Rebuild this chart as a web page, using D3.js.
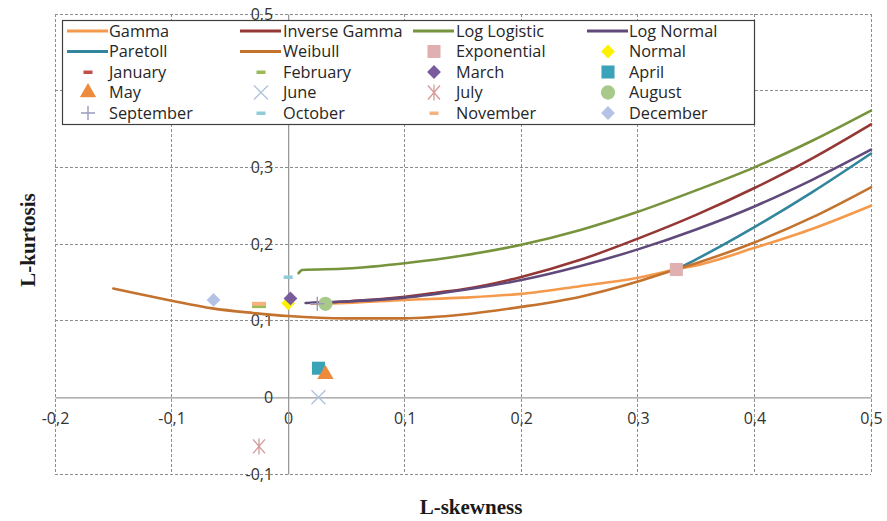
<!DOCTYPE html>
<html><head><meta charset="utf-8">
<script src="https://cdn.jsdelivr.net/npm/d3@7"></script>
<style>
body{margin:0;background:#fff;}
svg{display:block;}
</style></head>
<body>
<svg id="chart" width="887" height="521"></svg>
<script>
// ---------- DATA ----------
const xTicks = [-0.2,-0.1,0,0.1,0.2,0.3,0.4,0.5];
const yTicks = [-0.1,0,0.1,0.2,0.3,0.4,0.5];
const yLabelTicks = [-0.1,0,0.1,0.2,0.3,0.5];

const curveNames = ["Gamma","Inverse Gamma","Log Logistic","Log Normal","Paretoll","Weibull"];
const curveColors = ["#F59A4C","#953735","#77933C","#604A7B","#31859C","#C4732F"];
const gammaPts = [[0.02,0.122],[0.05,0.123],[0.1,0.127],[0.15,0.130],[0.2,0.135],[0.25,0.145],[0.3,0.156],[0.333,0.167],[0.35,0.172],[0.4,0.195],[0.45,0.220],[0.5,0.250]];
const invGammaPts = [[0.02,0.123],[0.05,0.125],[0.1,0.131],[0.13,0.137],[0.15,0.141],[0.2,0.157],[0.25,0.179],[0.3,0.207],[0.35,0.238],[0.4,0.273],[0.45,0.312],[0.5,0.356]];
const logLogisticPts = [[0.009,0.162],[0.012,0.166],[0.05,0.168],[0.1,0.175],[0.15,0.185],[0.2,0.199],[0.25,0.218],[0.3,0.242],[0.35,0.270],[0.4,0.300],[0.45,0.335],[0.5,0.374]];
const logNormalPts = [[0.015,0.123],[0.05,0.125],[0.1,0.130],[0.15,0.140],[0.2,0.153],[0.25,0.171],[0.3,0.193],[0.35,0.219],[0.4,0.249],[0.45,0.284],[0.5,0.323]];
const pareto2Pts = [[0.333,0.167],[0.35,0.180],[0.4,0.222],[0.45,0.268],[0.5,0.318]];
const weibullPts = [[-0.15,0.142],[-0.135,0.137],[-0.1,0.126],[-0.065,0.116],[-0.03,0.110],[0,0.106],[0.05,0.103],[0.1,0.103],[0.15,0.108],[0.2,0.118],[0.25,0.131],[0.3,0.151],[0.333,0.167],[0.35,0.175],[0.4,0.202],[0.45,0.235],[0.5,0.274]];
const curveData = [gammaPts, invGammaPts, logLogisticPts, logNormalPts, pareto2Pts, weibullPts];

const pointNames = ["Exponential","Normal","January","February","March","April","May","June","July","August","September","October","November","December"];
const pointX = [0.333, 0.0, -0.025, -0.025, 0.002, 0.026, 0.032, 0.026, -0.025, 0.032, 0.025, 0.0, -0.025, -0.064];
const pointY = [0.1667, 0.1226, 0.121, 0.119, 0.129, 0.038, 0.030, 0.0, -0.064, 0.122, 0.122, 0.157, 0.122, 0.127];
const pointShapes = ["square","diamond","dash","dash","diamond","square","triangle","x","asterisk","circle","plus","smalldash","dash","diamond"];
const pointColors = ["#DFB0AF","#FFF200","#C0504D","#9BBB59","#7A5C9E","#3BA3B8","#EE8A3C","#AFC2DE","#D59A9A","#A9C98A","#9A9ABD","#8FCBDB","#F6B27E","#B4C3E5"];

// ---------- LAYOUT ----------
const svg = d3.select("#chart");
const x = d3.scaleLinear().domain([-0.2,0.5]).range([55,871]);
const y = d3.scaleLinear().domain([-0.1,0.5]).range([474,14]);
const fmt = d => d3.format(".1~f")(d).replace(".", ",").replace("−","-");
const gridCol = "#8C8C8C";

// grid
const g = svg.append("g");
g.selectAll(".vg").data(xTicks).join("line")
  .attr("x1", d=>x(d)).attr("x2", d=>x(d)).attr("y1", y(0.5)).attr("y2", y(-0.1))
  .attr("stroke", gridCol).attr("stroke-width",1).attr("stroke-dasharray","3,2")
  .attr("shape-rendering","crispEdges")
  .attr("display", d=> d===0 ? "none" : null);
g.selectAll(".hg").data(yTicks).join("line")
  .attr("x1", x(-0.2)).attr("x2", x(0.5)).attr("y1", d=>y(d)).attr("y2", d=>y(d))
  .attr("stroke", gridCol).attr("stroke-width",1).attr("stroke-dasharray","3,2")
  .attr("shape-rendering","crispEdges")
  .attr("display", d=> d===0 ? "none" : null);

// axes through zero
const xAxis = d3.axisBottom(x).tickValues(xTicks).tickSize(0).tickPadding(15).tickFormat(fmt);
const yAxis = d3.axisLeft(y).tickValues(yLabelTicks).tickSize(0).tickPadding(15).tickFormat(fmt);
const ax = svg.append("g").attr("transform", `translate(0,${y(0)})`).call(xAxis);
const ay = svg.append("g").attr("transform", `translate(${x(0)},0)`).call(yAxis);
[ax, ay].forEach(a => {
  a.select(".domain").attr("stroke","#999").attr("stroke-width",1.3);
  a.selectAll("text").attr("fill","#333").style("font-family","'Open Sans', sans-serif").style("font-size","16px");
});
ax.selectAll("text").attr("dy","0.71em");

// curves
const line = d3.line().x(d=>x(d[0])).y(d=>y(d[1])).curve(d3.curveMonotoneX);
svg.append("g").selectAll("path").data(curveData).join("path")
  .attr("d", line).attr("fill","none")
  .attr("stroke", (d,i)=>curveColors[i]).attr("stroke-width",2.6)
  .attr("stroke-linejoin","round").attr("stroke-linecap","round");

// marker drawing
function drawMarker(sel, shape, color, cx, cy) {
  const t = `translate(${cx},${cy})`;
  if (shape === "square") sel.append("path").attr("d", d3.symbol(d3.symbolSquare, 170)()).attr("transform",t).attr("fill",color);
  else if (shape === "diamond") sel.append("path").attr("d", d3.symbol(d3.symbolSquare, 95)()).attr("transform",t+" rotate(45)").attr("fill",color);
  else if (shape === "triangle") sel.append("path").attr("d", d3.symbol(d3.symbolTriangle, 115)()).attr("transform",t).attr("fill",color);
  else if (shape === "circle") sel.append("path").attr("d", d3.symbol(d3.symbolCircle, 160)()).attr("transform",t).attr("fill",color);
  else if (shape === "dash") sel.append("rect").attr("x",cx-7).attr("y",cy-2).attr("width",14).attr("height",4).attr("fill",color);
  else if (shape === "smalldash") sel.append("rect").attr("x",cx-4.5).attr("y",cy-1.5).attr("width",9).attr("height",3.5).attr("fill",color);
  else if (shape === "plus") sel.append("path").attr("d","M-7,0H7M0,-7V7").attr("transform",t).attr("stroke",color).attr("stroke-width",1.4);
  else if (shape === "x") sel.append("path").attr("d","M-7,-7L7,7M-7,7L7,-7").attr("transform",t).attr("stroke",color).attr("stroke-width",1.3);
  else if (shape === "asterisk") sel.append("path").attr("d","M-6,-7L6,7M-6,7L6,-7M0,-8V8").attr("transform",t).attr("stroke",color).attr("stroke-width",1.3);
}

const pts = svg.append("g");
pointNames.forEach((n,i) => drawMarker(pts, pointShapes[i], pointColors[i], x(pointX[i]), y(pointY[i])));

// legend
const lg = svg.append("g");
lg.append("rect").attr("x",62.5).attr("y",20.5).attr("width",692).attr("height",104)
  .attr("fill","#fff").attr("stroke","#404040").attr("stroke-width",1.2);
const colX = [67, 240, 413, 587];
const textX = [109, 283, 456, 629];
const rowY = [31, 51.5, 72, 92.5, 113];
const legendItems = curveNames.map((n,i)=>({name:n, type:"line", color:curveColors[i]}))
  .concat(pointNames.map((n,i)=>({name:n, type:pointShapes[i], color:pointColors[i]})));
legendItems.forEach((it, k) => {
  const r = Math.floor(k/4), c = k%4;
  const cy = rowY[r];
  if (it.type === "line") {
    lg.append("line").attr("x1",colX[c]).attr("x2",colX[c]+41).attr("y1",cy).attr("y2",cy)
      .attr("stroke",it.color).attr("stroke-width",2.8);
  } else {
    const mcx = colX[c]+21;
    const sh = (it.type === "dash" || it.type === "smalldash") ? "smalldash" : it.type;
    drawMarker(lg, sh, it.color, mcx, cy);
  }
  lg.append("text").attr("x",textX[c]).attr("y",cy).attr("dy","0.35em")
    .attr("fill","#262626").style("font-family","'Open Sans', sans-serif").style("font-size","16.3px")
    .text(it.name);
});

// axis titles
svg.append("text").attr("x",471).attr("y",507).attr("dy","0.35em").attr("text-anchor","middle")
  .style("font-family","'Liberation Serif', serif").style("font-weight","bold").style("font-size","21px")
  .attr("fill","#1a1a1a").text("L-skewness");
svg.append("text").attr("transform","translate(28,240) rotate(-90)").attr("dy","0.35em").attr("text-anchor","middle")
  .style("font-family","'Liberation Serif', serif").style("font-weight","bold").style("font-size","21px")
  .attr("fill","#1a1a1a").text("L-kurtosis");
</script>
</body></html>
